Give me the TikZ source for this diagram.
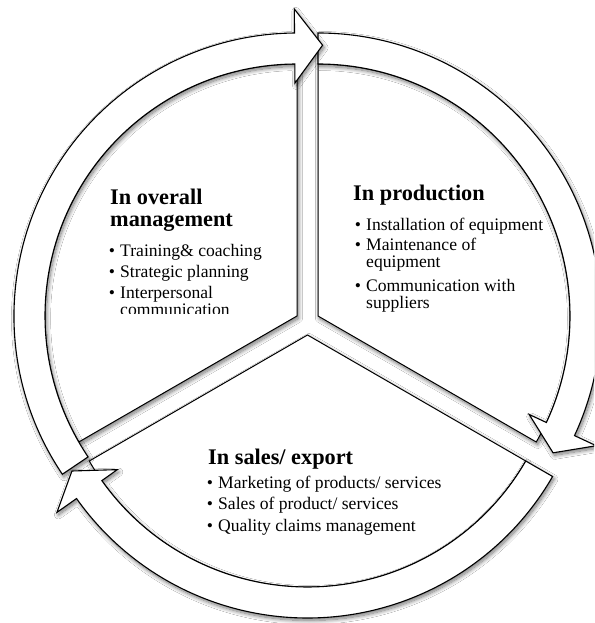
\documentclass[tikz,border=0pt]{standalone}
\usepackage{fontspec}
\setmainfont{Liberation Serif}
\usetikzlibrary{shadows.blur}

\tikzset{
  softshadow/.style={blur shadow={shadow xshift=1.5pt, shadow yshift=-2.5pt,
      shadow blur radius=4pt, shadow blur steps=12, shadow opacity=55}},
  slice/.style={fill=white, draw=black, line width=1pt, line join=miter, softshadow},
  ringarrow/.style={fill=white, draw=black, line width=1.1pt, line join=miter, softshadow},
  ttl/.style={anchor=base west, inner sep=0pt, font=\fontsize{22.3}{22}\selectfont\bfseries},
  itm/.style={anchor=base west, inner sep=0pt, font=\fontsize{17.6}{18}\selectfont},
  bul/.style={anchor=base, inner sep=0pt, font=\fontsize{17.6}{18}\selectfont},
}

% bullet dot plus its text line: name, text x, baseline y, text
\newcommand\bulletline[4]{%
  \node[bul] (#1-dot) at (#2-8,#3) {\textbullet};
  \node[itm] (#1) at (#2,#3) {#4};}

\begin{document}
\begin{tikzpicture}[x=1pt,y=1pt]
\path[clip] (0,0) rectangle (594,623);
\useasboundingbox (0,0) rectangle (594,623);
\fill[white] (0,0) rectangle (594,623);

% centres of the three exploded slices
\coordinate (L) at (297,307);
\coordinate (R) at (318,307);
\coordinate (B) at (307.5,288);

% pie slices
\path[slice] (L) -- ++(90:252) arc[start angle=90, end angle=210, radius=252] -- cycle;
\path[slice] (R) -- ++(-30:252) arc[start angle=-30, end angle=90, radius=252] -- cycle;
\path[slice] (B) -- ++(210:252) arc[start angle=210, end angle=330, radius=252] -- cycle;

% curved arrows round the slices
\begin{scope}[shift={(R)}]
  \path[ringarrow] (90:283) arc[start angle=90, end angle=-25, radius=283]
    -- (-25:307) -- (-30.2:272) -- (-25:233) -- (-25:252)
    arc[start angle=-25, end angle=90, radius=252] -- cycle;
\end{scope}
\begin{scope}[shift={(L)}]
  \path[ringarrow] (214:283) arc[start angle=214, end angle=90.5, radius=283]
    -- (90.5:307) -- (84.6:272) -- (90.5:233) -- (90.5:252)
    arc[start angle=90.5, end angle=214, radius=252] -- cycle;
\end{scope}
\begin{scope}[shift={(B)}]
  \path[ringarrow] (330:283) arc[start angle=330, end angle=215.3, radius=283]
    -- (215.3:307) -- (210:272) -- (215.3:233) -- (215.3:252)
    arc[start angle=215.3, end angle=330, radius=252] -- cycle;
\end{scope}

% overall management
\node[ttl] (mgt1) at (110,418) {In overall};
\node[ttl] (mgt2) at (110,396) {management};
\begin{scope}
  \clip (100,309) rectangle (300,430);
  \bulletline{m1}{120}{366}{Training\& coaching}
  \bulletline{m2}{120}{345}{Strategic planning}
  \bulletline{m3}{120}{324}{Interpersonal}
  \node[itm] (m3b) at (120,307) {communication};
\end{scope}

% production
\node[ttl] (prod) at (353,422) {In production};
\bulletline{p1}{366}{392}{Installation of equipment}
\bulletline{p2}{366}{372}{Maintenance of}
\node[itm] (p2b) at (366,355) {equipment};
\bulletline{p3}{366}{331}{Communication with}
\node[itm] (p3b) at (366,314) {suppliers};

% sales / export
\node[ttl] (sales) at (208,158) {In sales/ export};
\bulletline{s1}{218}{134}{Marketing of products/ services}
\bulletline{s2}{218}{113}{Sales of product/ services}
\bulletline{s3}{218}{91}{Quality claims management}
\end{tikzpicture}
\end{document}
